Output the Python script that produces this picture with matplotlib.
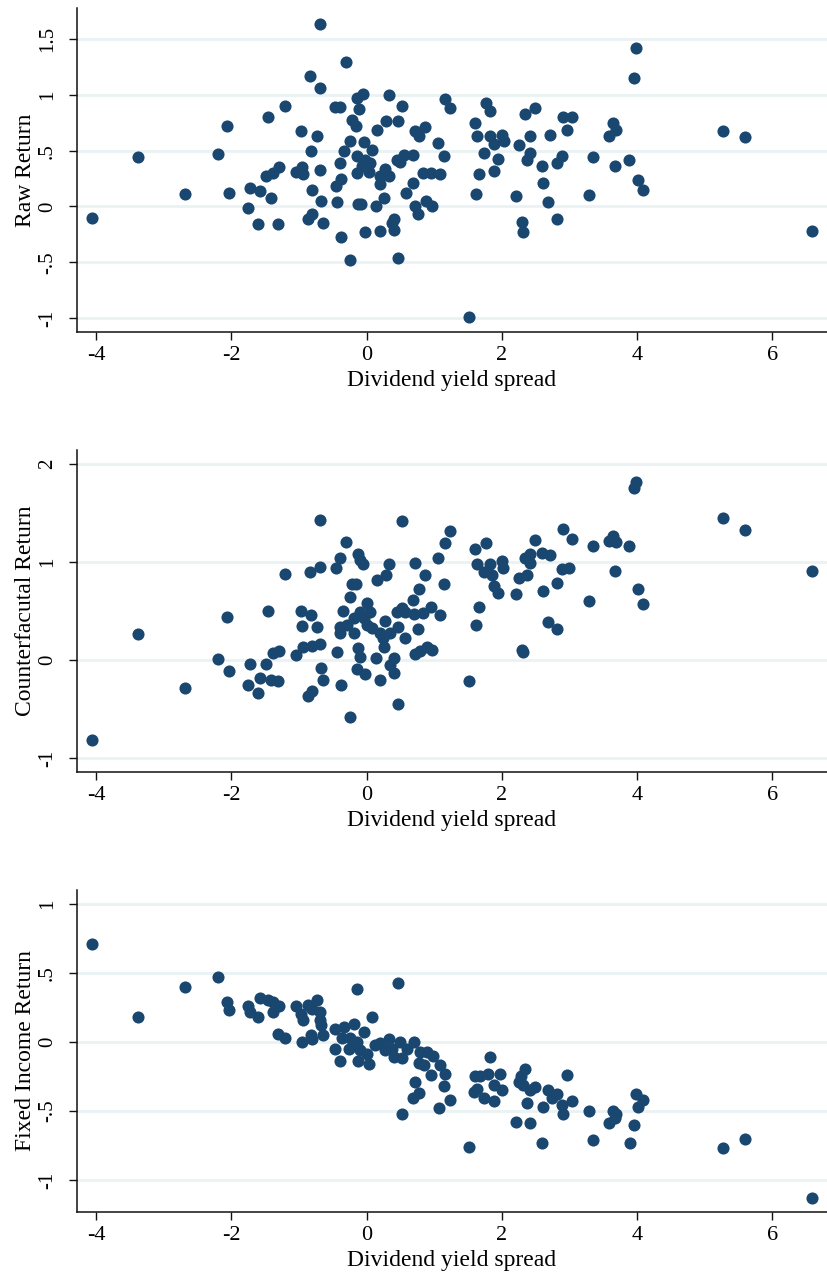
import matplotlib
matplotlib.use("Agg")
import matplotlib.pyplot as plt

plt.rcParams['font.family'] = ['Liberation Serif', 'DejaVu Serif']

# ---------------- data ----------------
x_label = "Dividend yield spread"
x_ticks = [-4, -2, 0, 2, 4, 6]
x_ticklabels = ["-4", "-2", "0", "2", "4", "6"]

# Panel 1: Raw Return
raw_x = [-4.06, -3.38, -2.69, -2.07, -2.19, -2.03, -1.46, -1.21, -1.72, -1.57, -1.42, -1.76, -1.60, -1.31,
         -1.48, -1.39, -1.29, -0.97, -0.73, -0.82, -0.83, -0.69, -0.69, -1.05, -0.95, -0.94, -0.69, -0.80,
         -0.67, -0.86, -0.81, -0.65,
         -0.31, -0.46, -0.40, -0.06, -0.14, -0.11, 0.33, 0.52, -0.21, -0.16, 0.15, 0.29, 0.47, 1.16, 1.23,
         0.72, 0.86, 0.78, 1.06, 1.15, -0.25, -0.34, -0.04, 0.08, -0.39, -0.14, -0.02, -0.14, 0.03, 0.05,
         -0.07, -0.38, -0.45, 0.28, 0.33, 0.20, 0.20, 0.45, 0.55, 0.69, 0.50, 0.84, 0.96, 1.08, 0.69, 0.58,
         0.26, 0.14, -0.44, -0.12, -0.08, 0.72, 0.88, 0.97, 0.76, 0.40, 0.37, 0.40, 0.20, -0.03, -0.38,
         -0.25, 0.46, 1.51, 1.60, 1.64, 1.73, 1.67, 1.62, 1.76, 1.83, 1.82, 1.88, 1.88, 1.95,
         2.01, 2.03, 2.35, 2.49, 2.42, 2.26, 2.42, 2.37, 2.21, 2.60, 2.61, 2.68, 2.30, 2.31, 2.81, 2.71,
         2.90, 3.04, 2.97, 2.89, 2.81, 3.35, 3.29, 3.65, 3.69, 3.59, 3.68, 3.88, 4.01, 4.09, 3.98, 3.96,
         5.27, 5.59, 6.59]
raw_y = [-0.10, 0.44, 0.11, 0.72, 0.47, 0.12, 0.80, 0.90, 0.17, 0.14, 0.08, -0.01, -0.16, -0.16,
         0.27, 0.30, 0.35, 0.68, 0.63, 0.50, 1.17, 1.06, 1.64, 0.31, 0.35, 0.29, 0.33, 0.15,
         0.05, -0.11, -0.07, -0.15,
         1.30, 0.89, 0.89, 1.01, 0.97, 0.87, 1.00, 0.90, 0.78, 0.72, 0.69, 0.77, 0.77, 0.96, 0.88,
         0.68, 0.71, 0.63, 0.57, 0.45, 0.59, 0.50, 0.58, 0.51, 0.39, 0.45, 0.42, 0.30, 0.31, 0.39,
         0.36, 0.25, 0.18, 0.34, 0.27, 0.27, 0.20, 0.42, 0.46, 0.46, 0.40, 0.30, 0.30, 0.29, 0.21, 0.12,
         0.08, 0.00, 0.04, 0.02, 0.02, 0.00, 0.05, 0.00, -0.07, -0.11, -0.15, -0.21, -0.22, -0.23, -0.27,
         -0.48, -0.46, -0.99, 0.75, 0.63, 0.48, 0.29, 0.11, 0.93, 0.86, 0.63, 0.56, 0.32, 0.43,
         0.64, 0.59, 0.83, 0.88, 0.63, 0.55, 0.48, 0.42, 0.09, 0.36, 0.21, 0.04, -0.14, -0.23, -0.11, 0.64,
         0.80, 0.80, 0.69, 0.45, 0.39, 0.44, 0.10, 0.75, 0.69, 0.63, 0.36, 0.42, 0.24, 0.15, 1.42, 1.15,
         0.68, 0.62, -0.22]

# Panel 2: Counterfacutal Return
cf_x = [-4.06, -3.38, -2.69, -2.07, -2.19, -2.03, -1.46, -1.21, -1.72, -1.49, -1.57, -1.41, -1.31, -1.76,
        -1.60, -1.39, -1.29, -1.05, -0.94, -0.80, -0.69, -0.97, -0.82, -0.95, -0.73, -0.69, -0.83, -0.69,
        -0.67, -0.65, -0.81, -0.86,
        -0.31, -0.40, -0.45, -0.13, -0.06, -0.09, 0.52, 0.33, 0.29, 0.15, 0.72, 0.86, 1.06, 1.16, 1.23,
        1.15, 0.78, 0.68, -0.21, -0.16, -0.25, -0.35, 0.01, -0.09, 0.05, -0.19, -0.04, 0.01, 0.08, -0.39,
        -0.39, -0.29, -0.19, 0.28, 0.20, 0.35, 0.25, 0.26, 0.47, 0.57, 0.45, 0.52, 0.57, 0.70, 0.84, 0.95,
        1.08, 0.76, 0.72, 0.79, 0.89, 0.97, -0.13, -0.09, -0.44, 0.14, 0.40, 0.35, 0.41, -0.14, -0.02,
        0.20, -0.38, -0.25, 0.46, 1.51, 1.60, 1.76, 1.64, 1.83, 1.73, 1.85, 1.88, 1.95, 1.67, 1.62,
        2.01, 2.02, 2.21, 2.26, 2.37, 2.35, 2.42, 2.42, 2.49, 2.60, 2.72, 2.61, 2.68, 2.81, 2.30, 2.31,
        2.82, 2.90, 3.04, 2.89, 2.99, 3.35, 3.29, 3.59, 3.65, 3.69, 3.68, 3.88, 4.01, 4.09, 3.98, 3.96,
        5.27, 5.59, 6.59]
cf_y = [-0.82, 0.26, -0.29, 0.44, 0.01, -0.11, 0.50, 0.88, -0.04, -0.04, -0.18, -0.21, -0.22, -0.26,
        -0.34, 0.07, 0.09, 0.05, 0.13, 0.14, 0.16, 0.50, 0.46, 0.35, 0.34, 1.43, 0.90, 0.95,
        -0.08, -0.20, -0.32, -0.37,
        1.20, 1.04, 0.94, 1.08, 0.98, 1.02, 1.42, 0.98, 0.87, 0.81, 0.99, 0.87, 1.04, 1.19, 1.31,
        0.77, 0.72, 0.61, 0.77, 0.77, 0.64, 0.50, 0.58, 0.49, 0.49, 0.43, 0.43, 0.36, 0.33, 0.34,
        0.27, 0.36, 0.27, 0.40, 0.27, 0.27, 0.22, 0.13, 0.34, 0.22, 0.49, 0.53, 0.49, 0.47, 0.48, 0.54,
        0.46, 0.32, 0.06, 0.09, 0.13, 0.10, 0.12, 0.03, 0.08, 0.02, 0.02, -0.05, -0.13, -0.09, -0.14,
        -0.20, -0.26, -0.58, -0.45, -0.22, 1.13, 1.19, 0.98, 0.98, 0.90, 0.87, 0.75, 0.68, 0.54, 0.36,
        1.01, 0.94, 0.67, 0.84, 0.87, 1.04, 1.08, 0.99, 1.22, 1.09, 1.07, 0.70, 0.39, 0.31, 0.10, 0.08,
        0.78, 1.33, 1.23, 0.93, 0.94, 1.16, 0.60, 1.21, 1.26, 1.20, 0.91, 1.16, 0.72, 0.57, 1.81, 1.75,
        1.45, 1.32, 0.91]

# Panel 3: Fixed Income Return
fi_x = [-4.06, -3.38, -2.69, -2.19, -2.07, -2.03, -1.76, -1.72, -1.60, -1.57, -1.46, -1.39, -1.29, -1.39,
        -1.31, -1.21, -1.05, -0.97, -0.94, -0.95, -0.86, -0.73, -0.80, -0.69, -0.69, -0.67, -0.82, -0.80,
        -0.65,
        -0.14, 0.47, 0.08, -0.46, -0.46, -0.40, -0.33, -0.19, -0.04, -0.36, -0.24, -0.14, -0.09, -0.12,
        0.04, 0.01, -0.26, 0.13, 0.20, 0.33, 0.28, 0.40, 0.37, 0.50, 0.52, 0.60, 0.70, 0.79, 0.89, 0.98,
        0.77, 0.85, 1.08, 1.16, 0.95, 0.72, 0.77, 0.68, 1.15, 1.23, 1.07, 0.52, 1.51, 1.83, 1.61, 1.68,
        1.80, 1.88, 1.63, 1.59, 1.73, 1.89,
        1.98, 2.01, 2.21, 2.35, 2.29, 2.26, 2.32, 2.42, 2.49, 2.37, 2.42, 2.60, 2.61, 2.68, 2.74, 2.81,
        2.89, 2.90, 2.97, 3.04, 3.29, 3.35, 3.59, 3.65, 3.69, 3.67, 3.89, 3.96, 3.98, 4.09, 4.01,
        5.27, 5.59, 6.59]
fi_y = [0.71, 0.18, 0.40, 0.47, 0.29, 0.23, 0.26, 0.22, 0.18, 0.32, 0.30, 0.29, 0.26, 0.22,
        0.06, 0.03, 0.26, 0.20, 0.16, 0.00, 0.27, 0.30, 0.24, 0.22, 0.16, 0.12, 0.05, 0.02,
        0.05,
        0.38, 0.43, 0.18, 0.09, -0.05, -0.14, 0.11, 0.13, 0.07, 0.03, 0.03, 0.00, -0.06, -0.14,
        -0.16, -0.09, -0.05, -0.02, -0.01, 0.02, -0.06, -0.11, -0.05, 0.00, -0.12, -0.05, 0.00, -0.07, -0.07, -0.10,
        -0.15, -0.17, -0.17, -0.23, -0.24, -0.29, -0.37, -0.41, -0.32, -0.42, -0.48, -0.52, -0.76, -0.11, -0.25, -0.25,
        -0.23, -0.31, -0.34, -0.36, -0.41, -0.43,
        -0.23, -0.35, -0.58, -0.20, -0.25, -0.29, -0.31, -0.35, -0.33, -0.44, -0.59, -0.73, -0.47, -0.35, -0.41, -0.38,
        -0.46, -0.52, -0.24, -0.43, -0.50, -0.71, -0.59, -0.50, -0.52, -0.55, -0.73, -0.60, -0.38, -0.42, -0.47,
        -0.77, -0.70, -1.13]

raw_ticks = [-1, -0.5, 0, 0.5, 1, 1.5]
raw_ticklabels = ["-1", "-.5", "0", ".5", "1", "1.5"]
cf_ticks = [-1, 0, 1, 2]
cf_ticklabels = ["-1", "0", "1", "2"]
fi_ticks = [-1, -0.5, 0, 0.5, 1]
fi_ticklabels = ["-1", "-.5", "0", ".5", "1"]

panels = [
    (raw_x, raw_y, "Raw Return", raw_ticks, raw_ticklabels, (-1.13, 1.78)),
    (cf_x, cf_y, "Counterfacutal Return", cf_ticks, cf_ticklabels, (-1.14, 2.14)),
    (fi_x, fi_y, "Fixed Income Return", fi_ticks, fi_ticklabels, (-1.23, 1.10)),
]

# ---------------- figure ----------------
W, H = 827, 1279
fig = plt.figure(figsize=(W / 100, H / 100), dpi=100)
fig.patch.set_facecolor("white")

boxes = [(8, 332.5), (450, 771.7), (890, 1211.7)]  # top, bottom in pixels
left_px, right_px = 76.5, 827
navy = "#1A476F"
grid_c = "#EAF2F3"
fs_title = 17
fs_xtick = 16
fs_ytick = 15

for (xs, ys, ylab, yt, ytl, ylim), (top, bot) in zip(panels, boxes):
    ax = fig.add_axes([left_px / W, 1 - bot / H, (right_px - left_px) / W, (bot - top) / H])
    ax.set_facecolor("white")
    ax.scatter(xs, ys, s=76, color=navy, linewidths=0, zorder=3, clip_on=False)
    ax.set_xlim(-4.29, 6.81)
    ax.set_ylim(*ylim)
    ax.set_xticks(x_ticks, x_ticklabels)
    ax.set_yticks(yt, ytl)
    for v in yt:
        ax.axhline(v, color=grid_c, lw=2, zorder=1)
    for s in ["top", "right"]:
        ax.spines[s].set_visible(False)
    for s in ["left", "bottom"]:
        ax.spines[s].set_color("#111111")
        ax.spines[s].set_linewidth(1.1)
    ax.tick_params(axis="both", direction="out", length=6, width=1.0, color="#111111")
    ax.tick_params(axis="x", pad=4, labelsize=fs_xtick)
    ax.tick_params(axis="y", pad=8, labelsize=fs_ytick)
    for lab in ax.get_yticklabels():
        lab.set_rotation(90)
        lab.set_va("center")
    ax.set_xlabel(x_label, fontsize=fs_title)
    ax.set_ylabel(ylab, fontsize=fs_title)
    ax.xaxis.set_label_coords(0.5, -38 / (bot - top))
    ax.xaxis.label.set_va("top")
    ax.yaxis.set_label_coords(-40 / (right_px - left_px), 0.5)

fig.savefig("out.png", dpi=100, facecolor="white")
